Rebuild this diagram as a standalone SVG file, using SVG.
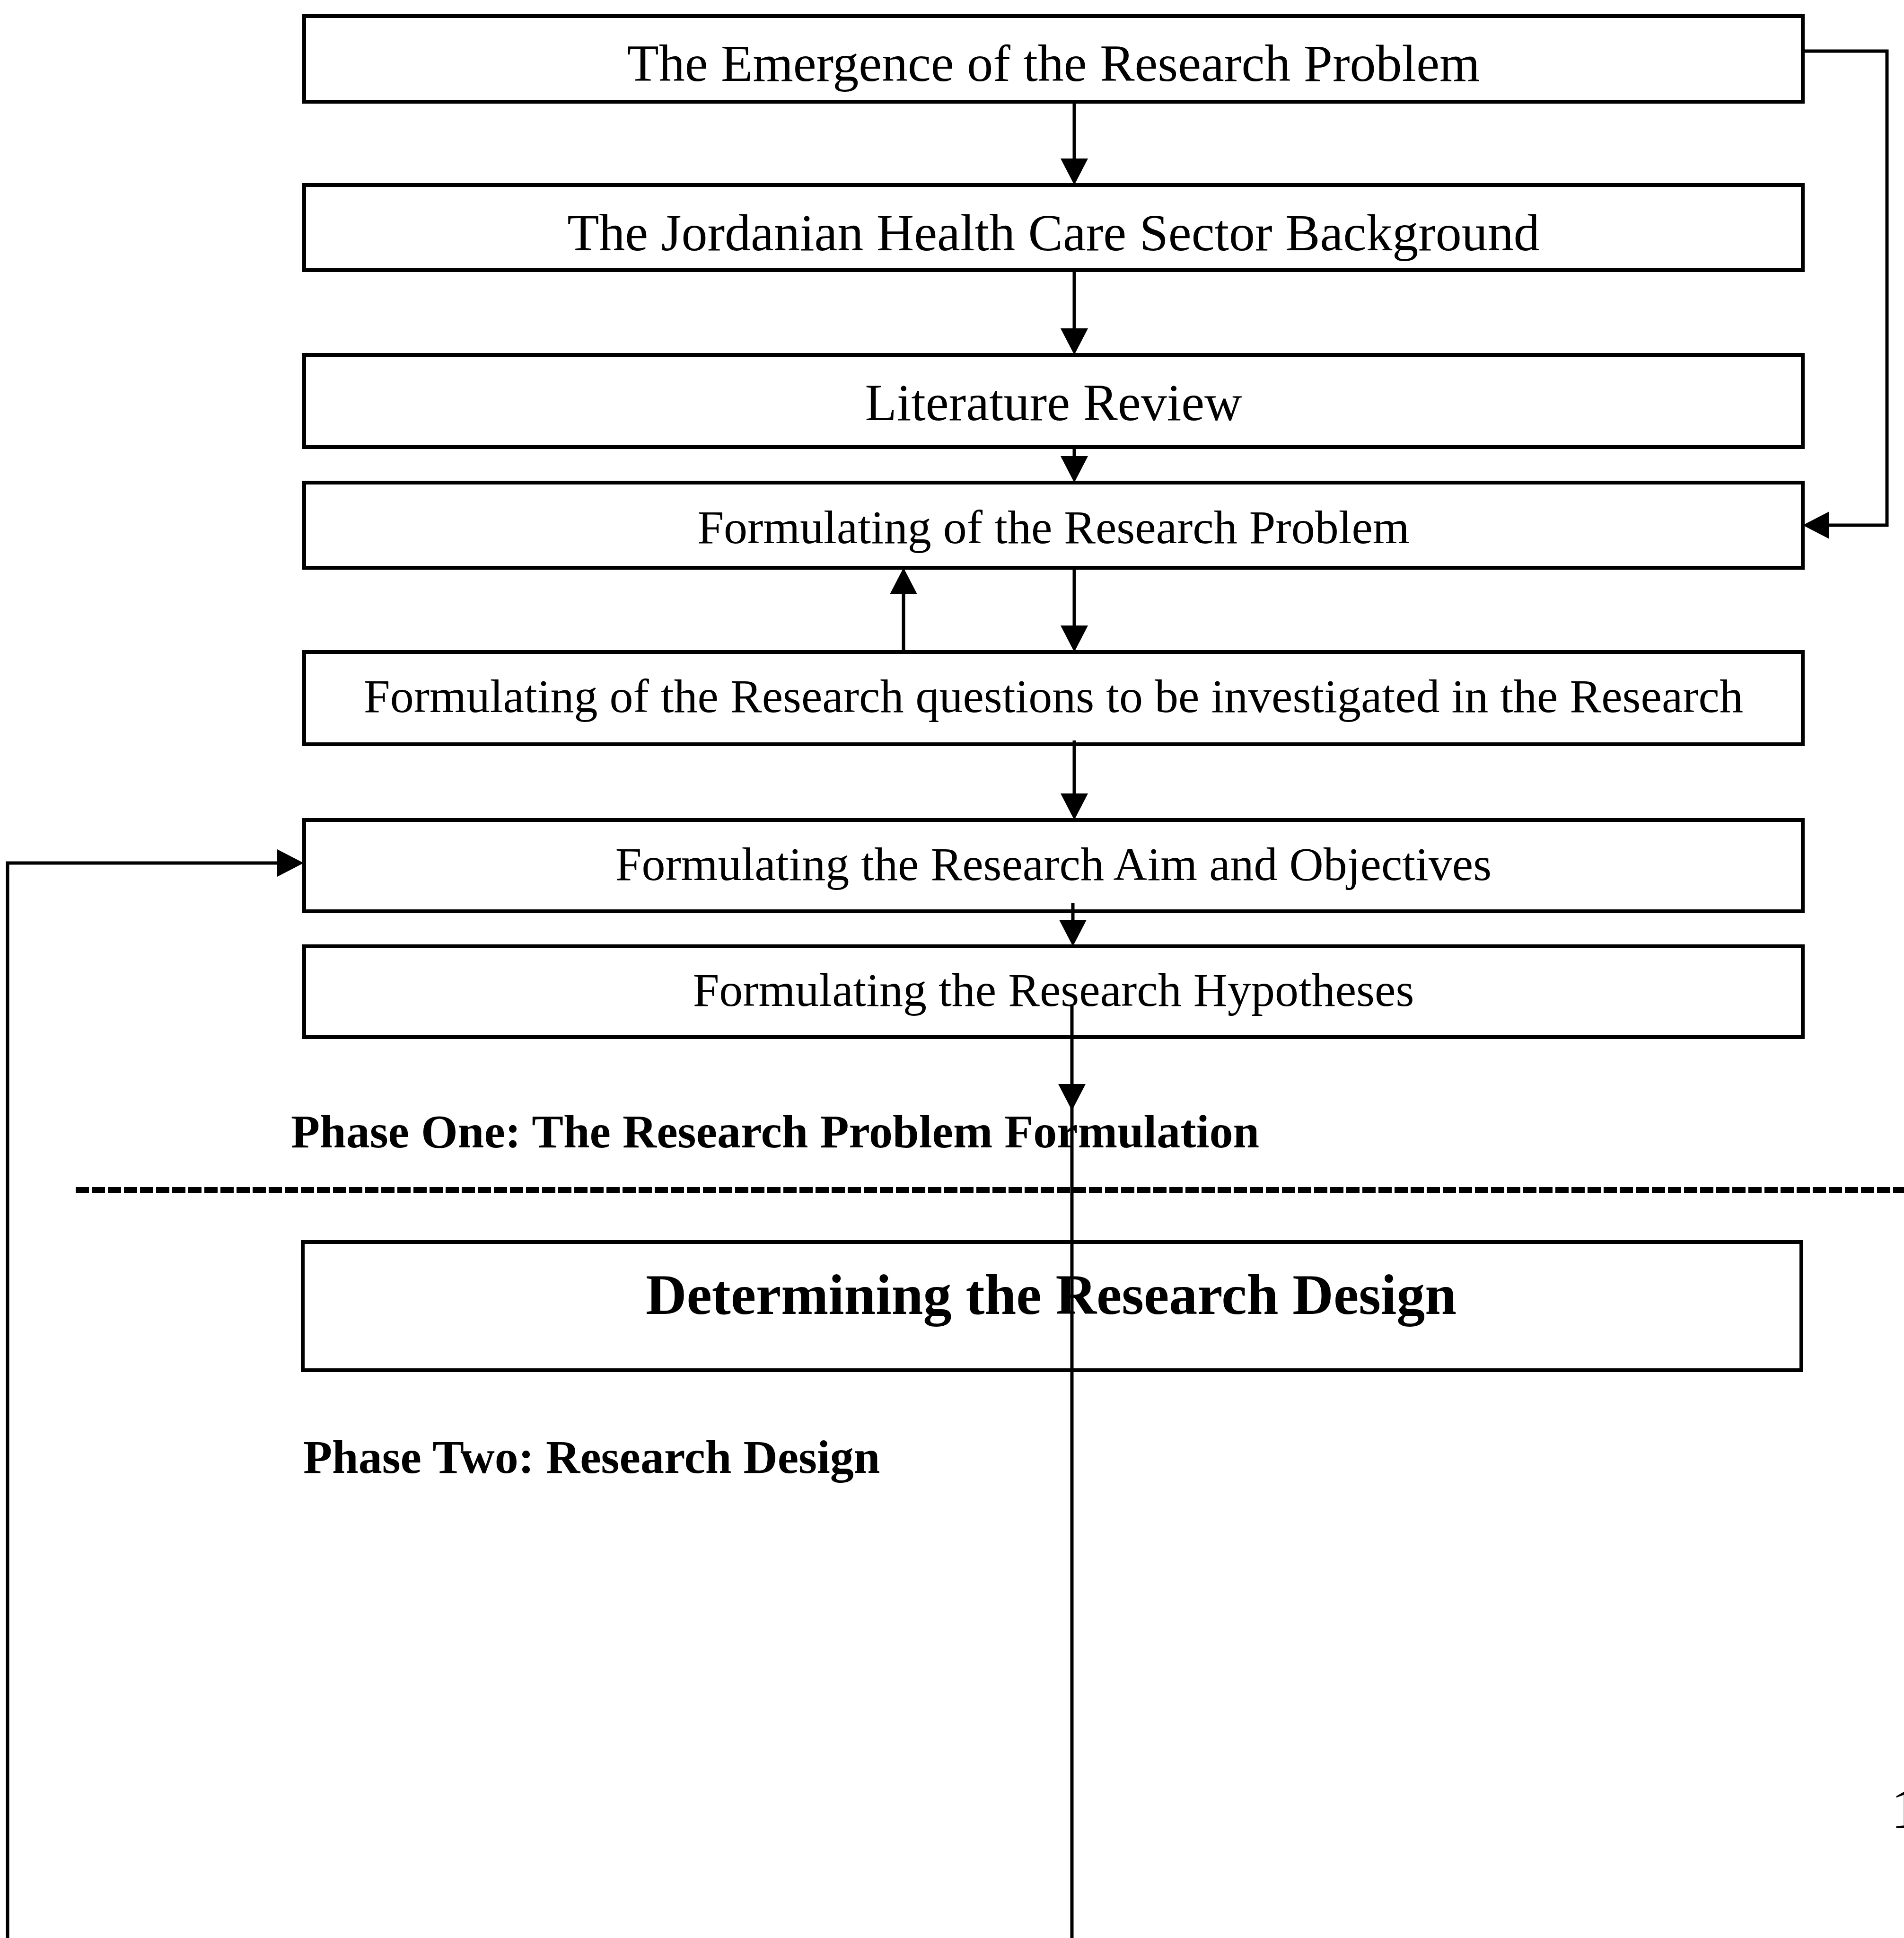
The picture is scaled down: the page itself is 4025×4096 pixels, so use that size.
<svg xmlns="http://www.w3.org/2000/svg" width="4025" height="4096" viewBox="0 0 4025 4096">
<style>
.box{fill:#fff;stroke:#000;stroke-width:8}
.t{font-family:"Liberation Serif","Times New Roman",serif;fill:#000;text-anchor:middle}
.r{font-size:110px}
.s{font-size:100px}
.b{font-weight:bold}
.lbl{font-family:"Liberation Serif","Times New Roman",serif;font-weight:bold;font-size:100px;fill:#000}
.c{fill:none;stroke:#000;stroke-width:7}
.dash{fill:none;stroke:#000;stroke-width:12;stroke-dasharray:28 6}
</style>
<defs>
<marker id="ah" viewBox="0 0 56 58" markerWidth="56" markerHeight="58" markerUnits="userSpaceOnUse" refX="36" refY="29" orient="auto">
<path d="M0,0 L56,29 L0,58 Z" fill="#000"/>
</marker>
</defs>
<rect width="4025" height="4096" fill="#fff"/>

<g id="node-emergence"><rect class="box" x="643" y="34" width="3168" height="181"/><text class="t r" x="2227" y="171">The Emergence of the Research Problem</text></g>
<g id="node-jordanian"><rect class="box" x="643" y="391" width="3168" height="180"/><text class="t r" x="2227" y="529">The Jordanian Health Care Sector Background</text></g>
<g id="node-literature"><rect class="box" x="643" y="750" width="3168" height="195"/><text class="t r" x="2227" y="888">Literature Review</text></g>
<g id="node-problem"><rect class="box" x="643" y="1020" width="3168" height="180"/><text class="t s" x="2227" y="1148">Formulating of the Research Problem</text></g>
<g id="node-questions"><rect class="box" x="643" y="1378" width="3168" height="195"/><text class="t s" x="2227" y="1505">Formulating of the Research questions to be investigated in the Research</text></g>
<g id="node-aim"><rect class="box" x="643" y="1733" width="3168" height="193"/><text class="t s" x="2227" y="1860">Formulating the Research Aim and Objectives</text></g>
<g id="node-hypotheses"><rect class="box" x="643" y="2000" width="3168" height="192"/><text class="t s" x="2227" y="2126">Formulating the Research Hypotheses</text></g>
<g id="node-design"><rect class="box" x="640" y="2625" width="3168" height="271"/><text class="t b" font-size="120" x="2222" y="2777">Determining the Research Design</text></g>

<g id="phase-labels">
<text class="lbl" x="615" y="2425">Phase One: The Research Problem Formulation</text>
<text class="lbl" x="641" y="3113">Phase Two: Research Design</text>
<line class="dash" x1="160" y1="2515" x2="4025" y2="2515"/>
</g>

<g id="connectors">
<path class="c" d="M2271,215 V371" marker-end="url(#ah)"/>
<path class="c" d="M2271,571 V730" marker-end="url(#ah)"/>
<path class="c" d="M2271,945 V1000" marker-end="url(#ah)"/>
<path class="c" d="M2271,1200 V1358" marker-end="url(#ah)"/>
<path class="c" d="M1910,1378 V1220" marker-end="url(#ah)"/>
<path class="c" d="M2271,1565 V1713" marker-end="url(#ah)"/>
<path class="c" d="M2268,1908 V1980" marker-end="url(#ah)"/>
<path class="c" d="M2266,2126 V2327" marker-end="url(#ah)"/>
<path class="c" d="M2266,2300 V4096"/>
<path class="c" d="M3811,108 H3989 V1110 H3831" marker-end="url(#ah)"/>
<path class="c" d="M16,4096 V1824 H622" marker-end="url(#ah)"/>
</g>

<text x="3998" y="3863" font-family="Liberation Serif, Times New Roman, serif" font-size="120" fill="#000">1</text>
</svg>
